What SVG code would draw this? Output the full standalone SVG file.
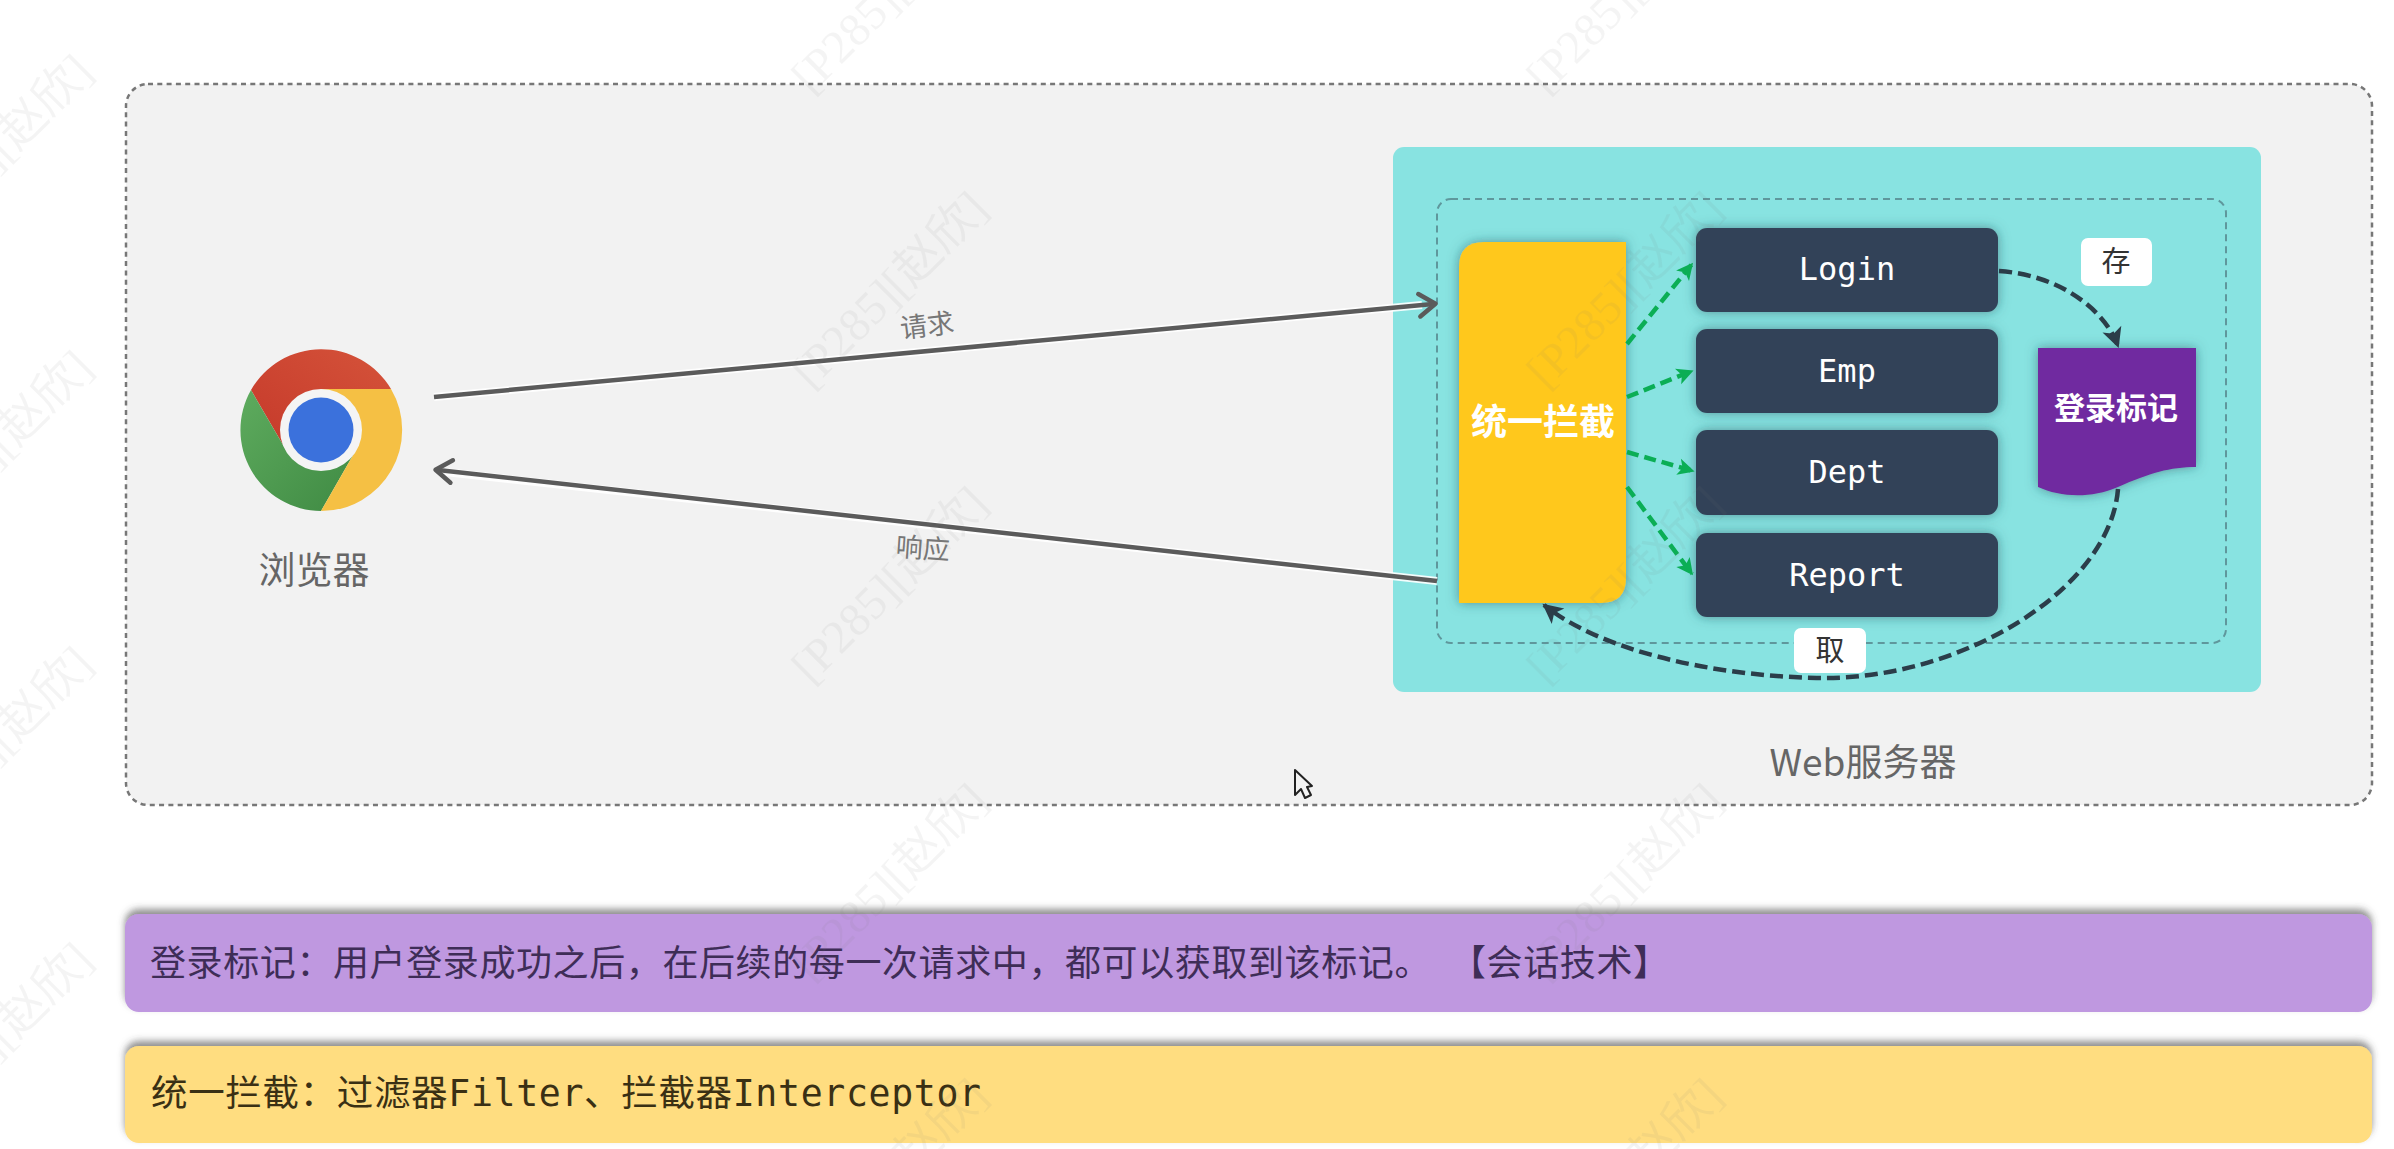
<svg xmlns="http://www.w3.org/2000/svg" width="2394" height="1149" viewBox="0 0 2394 1149">
<style>
.cjk{font-family:"Noto Sans CJK SC","Noto Sans",sans-serif}
.mono{font-family:"DejaVu Sans Mono","Noto Sans CJK SC",monospace}
.svc{fill:#324359;filter:url(#sh)}
.svct{font-family:"DejaVu Sans Mono",monospace;font-size:32px;fill:#fff;text-anchor:middle}
.gray{fill:none;stroke:#5b5b5b;stroke-width:4.5}
.halo{fill:none;stroke:#fff;stroke-width:8;opacity:.9}
.green{fill:none;stroke:#0bae55;stroke-width:4.5;stroke-dasharray:12 6;marker-end:url(#ga)}
.dark{fill:none;stroke:#2b3d49;stroke-width:4.5;stroke-dasharray:13 6}
.lbl{fill:#fff}
.wm{font-family:"Liberation Serif","Noto Sans CJK SC",serif;font-size:47px;fill:#777;opacity:.075;text-anchor:middle}
</style>
<defs>
<filter id="sh" x="-20%" y="-30%" width="140%" height="160%"><feDropShadow dx="0" dy="0" stdDeviation="6" flood-color="#24505a" flood-opacity=".55"/></filter>
<filter id="bar" x="-2%" y="-30%" width="104%" height="150%"><feDropShadow dx="0" dy="-5" stdDeviation="3.500" flood-color="#444" flood-opacity=".6"/></filter>
<linearGradient id="gr" x1="0" y1="1" x2="1" y2="0"><stop offset="0" stop-color="#c5392a"/><stop offset="1" stop-color="#d5533a"/></linearGradient>
<linearGradient id="gg" x1="0" y1="0" x2="1" y2="1"><stop offset="0" stop-color="#5eab5e"/><stop offset="1" stop-color="#3f8a43"/></linearGradient>
<marker id="ga" viewBox="0 0 12 12" refX="10" refY="6" markerWidth="20" markerHeight="20" markerUnits="userSpaceOnUse" orient="auto"><path d="M1 1 L11 6 L1 11 L3.5 6 Z" fill="#0bae55"/></marker>
<marker id="da" viewBox="0 0 12 12" refX="10" refY="6" markerWidth="24" markerHeight="24" markerUnits="userSpaceOnUse" orient="auto"><path d="M1 1 L11 6 L1 11 L3.5 6 Z" fill="#2b3d49"/></marker>
<marker id="oa" viewBox="0 0 24 24" refX="19" refY="12" markerWidth="30" markerHeight="30" markerUnits="userSpaceOnUse" orient="auto"><path d="M8 3 L21 12 L8 21" fill="none" stroke="#5b5b5b" stroke-width="3.600" stroke-linejoin="round" stroke-linecap="round"/></marker>
</defs>
<rect width="2394" height="1149" fill="#fff"/>
<g id="outer-box"><rect x="126" y="84" width="2246" height="721" rx="22" fill="#f2f2f2" stroke="#777" stroke-width="2.500" stroke-dasharray="5 4.300"/></g>
<g id="browser">
<path d="M251,390 A81,81 0 0 1 391,389 L321,389 L286,450 Z" fill="url(#gr)"/>
<path d="M251,390 A81,81 0 0 0 321,511 L356,450 L286,450 Z" fill="url(#gg)"/>
<path d="M391,389 A81,81 0 0 1 321,511 L356,450 L321,389 Z" fill="#f5c044"/>
<circle cx="321" cy="430" r="41" fill="#f4f4f4"/>
<circle cx="321" cy="430" r="32.500" fill="#3b71dc"/>
<text class="cjk" x="314" y="584" font-size="37" fill="#666" text-anchor="middle">浏览器</text>
</g>
<g id="web-server">
<rect x="1393" y="147" width="868" height="545" rx="11" fill="#88e3e1"/>
<rect x="1437" y="199" width="789" height="444" rx="14" fill="none" stroke="#5f979c" stroke-width="2" stroke-dasharray="7 5"/>
<text class="cjk" x="1863" y="776" font-size="37" fill="#666" text-anchor="middle">Web服务器</text>
</g>
<g id="interceptor">
<path d="M1459,603 V267 Q1459,242 1484,242 H1626 V578 Q1626,603 1601,603 Z" fill="#ffc81e" filter="url(#sh)"/>
<text class="cjk" x="1543" y="435" font-size="36" font-weight="700" fill="#fff" text-anchor="middle">统一拦截</text>
</g>
<g id="login"><rect class="svc" x="1696" y="228" width="302" height="84" rx="11"/><text class="svct" x="1847" y="280">Login</text></g>
<g id="emp"><rect class="svc" x="1696" y="329" width="302" height="84" rx="11"/><text class="svct" x="1847" y="382">Emp</text></g>
<g id="dept"><rect class="svc" x="1696" y="430" width="302" height="85" rx="11"/><text class="svct" x="1847" y="483">Dept</text></g>
<g id="report"><rect class="svc" x="1696" y="533" width="302" height="84" rx="11"/><text class="svct" x="1847" y="586">Report</text></g>
<g id="login-mark">
<path d="M2038,348 H2196 V467 C2170,467 2150,473 2118,487 C2090,499 2060,497 2038,487 Z" fill="#6f2ba0" filter="url(#sh)"/>
<text class="cjk" x="2116" y="419" font-size="31" font-weight="700" fill="#fff" text-anchor="middle">登录标记</text>
</g>
<g id="connectors">
<path class="halo" d="M434,397 L1422,305"/>
<path class="gray" d="M434,397 L1433,304" marker-end="url(#oa)"/>
<path class="halo" d="M1437,581 L445,472"/>
<path class="gray" d="M1437,581 L438,470" marker-end="url(#oa)"/>
<path class="green" d="M1627,344 L1692,264"/>
<path class="green" d="M1627,397 L1692,371"/>
<path class="green" d="M1627,452 L1693,471"/>
<path class="green" d="M1627,487 L1692,574"/>
<path class="dark" d="M1999,271 C2060,275 2105,310 2118,346" marker-end="url(#da)"/>
<path class="dark" d="M2118,489 C2110,590 1960,680 1820,678 C1710,676 1600,650 1544,605" marker-end="url(#da)"/>
<text class="cjk" x="927" y="335" font-size="27" fill="#777" text-anchor="middle" transform="rotate(-7 927 325)">请求</text>
<text class="cjk" x="923" y="558" font-size="27" fill="#777" text-anchor="middle" transform="rotate(4 923 548)">响应</text>
</g>
<g id="store-label"><rect class="lbl" x="2081" y="238" width="71" height="48" rx="7"/><text class="cjk" x="2116" y="272" font-size="29" fill="#333" text-anchor="middle">存</text></g>
<g id="fetch-label"><rect class="lbl" x="1794" y="628" width="72" height="45" rx="7"/><text class="cjk" x="1830" y="661" font-size="29" fill="#333" text-anchor="middle">取</text></g>
<g id="note-mark">
<rect x="125" y="914" width="2247" height="98" rx="14" fill="#bf98e0" filter="url(#bar)"/>
<text class="mono" x="150" y="976" font-size="36" letter-spacing=".6" fill="#3e2d57">登录标记：用户登录成功之后，在后续的每一次请求中，都可以获取到该标记。<tspan dx="37">【会话技术】</tspan></text>
</g>
<g id="note-intercept">
<rect x="125" y="1046" width="2247" height="97" rx="14" fill="#ffdd80" filter="url(#bar)"/>
<text class="mono" x="151" y="1106" font-size="36.500" letter-spacing=".66" fill="#3a3014">统一拦截：过滤器Filter、拦截器Interceptor</text>
</g>
<g id="cursor"><path d="M1295,770 V795 L1301,789 L1305,798 L1311,795 L1307,787 L1312,786 Z" fill="#f4f4f4" stroke="#222" stroke-width="2" stroke-linejoin="round"/></g>
<g id="watermarks">
<text class="wm" transform="rotate(-45 890 -5)" x="890" y="10">[P285][赵欣]</text>
<text class="wm" transform="rotate(-45 890 290)" x="890" y="305">[P285][赵欣]</text>
<text class="wm" transform="rotate(-45 890 585)" x="890" y="600">[P285][赵欣]</text>
<text class="wm" transform="rotate(-45 890 882)" x="890" y="897">[P285][赵欣]</text>
<text class="wm" transform="rotate(-45 1625 -5)" x="1625" y="10">[P285][赵欣]</text>
<text class="wm" transform="rotate(-45 1625 290)" x="1625" y="305">[P285][赵欣]</text>
<text class="wm" transform="rotate(-45 1625 585)" x="1625" y="600">[P285][赵欣]</text>
<text class="wm" transform="rotate(-45 1625 882)" x="1625" y="897">[P285][赵欣]</text>
<text class="wm" transform="rotate(-45 1625 1177)" x="1625" y="1192">[P285][赵欣]</text>
<text class="wm" transform="rotate(-45 890 1177)" x="890" y="1192">[P285][赵欣]</text>
<text class="wm" transform="rotate(-45 -5 153)" x="-5" y="168">[P285][赵欣]</text>
<text class="wm" transform="rotate(-45 -5 449)" x="-5" y="464">[P285][赵欣]</text>
<text class="wm" transform="rotate(-45 -5 745)" x="-5" y="760">[P285][赵欣]</text>
<text class="wm" transform="rotate(-45 -5 1041)" x="-5" y="1056">[P285][赵欣]</text>
</g>
</svg>
